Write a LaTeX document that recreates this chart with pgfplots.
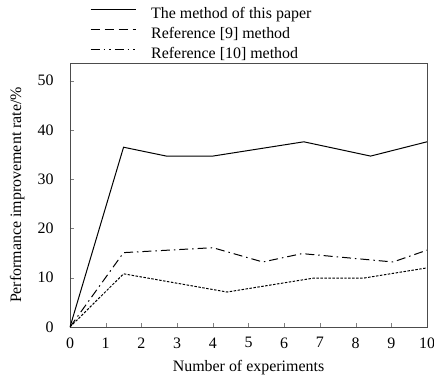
\documentclass[border=0pt]{standalone}
\usepackage{fontspec}
\setmainfont{Liberation Serif}
\usepackage{pgfplots}
\pgfplotsset{compat=1.18}
\begin{document}
\begin{tikzpicture}
\begin{axis}[
  scale only axis,
  width=357bp, height=264bp,
  xmin=0, xmax=10, ymin=0, ymax=53.6,
  xtick={0,1,...,10}, ytick={0,10,...,50},
  tick align=inside,
  xtick pos=bottom, ytick pos=left,
  major tick length=4bp,
  /pgf/number format/assume math mode=true,
  tick label style={font=\fontsize{16}{19}\selectfont},
  yticklabel style={xshift=-13bp},
  xticklabel style={yshift=-7bp},
  label style={font=\fontsize{16}{19}\selectfont},
  xlabel={Number of experiments},
  ylabel={Performance improvement rate/\%},
  xlabel style={at={(axis description cs:0.5,0)}, anchor=north, yshift=-30bp},
  ylabel style={at={(axis description cs:0,0.5)}, anchor=south, rotate=0, yshift=42bp},
  axis line style={black!70, line width=0.8pt},
  legend image code/.code={\draw[#1] (0bp,5bp) -- (45bp,5bp);},
  legend style={draw=none, fill=none, at={(0.056,1.0)}, anchor=north west,
    yshift=57bp, inner sep=0bp,
    nodes={inner sep=0bp, text height=12bp, text depth=4bp},
    font=\fontsize{16}{19}\selectfont, row sep=4bp,
    /tikz/every odd column/.append style={column sep=15bp}},
  legend cell align=left,
]
\addplot[black, line width=1pt] coordinates {(0,0) (1.5,36.5) (2.7,34.7) (4,34.7) (6.55,37.6) (8.42,34.7) (10,37.6)};
\addlegendentry{The method of this paper}
\addplot[black, line width=1pt, dash pattern=on 2.5pt off 1.5pt,
  legend image post style={dash pattern=on 9pt off 5pt}]
  coordinates {(0,0) (1.5,10.8) (4.4,7.1) (6.8,9.9) (8.2,9.9) (10,12)};
\addlegendentry{Reference [9] method}
\addplot[black, line width=1pt, dash pattern=on 9pt off 4pt on 1.5pt off 4pt,
  legend image post style={dash pattern=on 9pt off 4pt on 1.5pt off 4pt on 1.5pt off 4pt}]
  coordinates {(0,0) (1.5,15.1) (4,16.1) (5.4,13.2) (6.5,14.9) (9.05,13.2) (10,15.6)};
\addlegendentry{Reference [10] method}
\end{axis}
\pgfresetboundingbox
\path[use as bounding box] ([shift={(-70bp,-52bp)}]current axis.south west) rectangle ([shift={(7bp,63bp)}]current axis.north east);
\end{tikzpicture}
\end{document}
